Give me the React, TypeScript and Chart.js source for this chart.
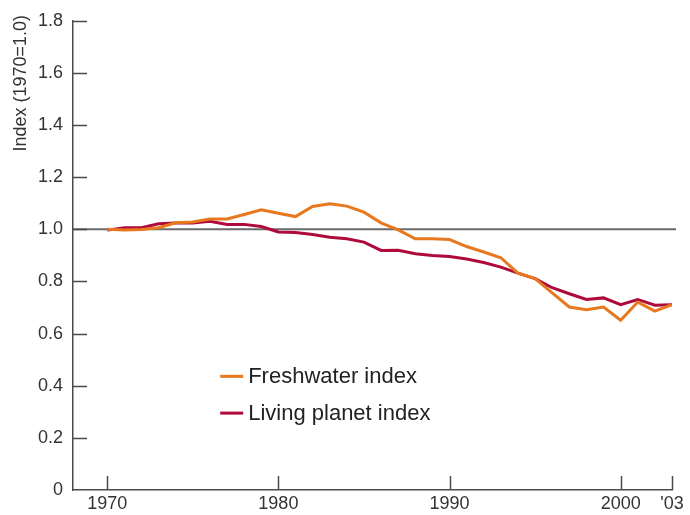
import React, { useEffect, useRef } from "react";
import { Chart, registerables } from "chart.js";

Chart.register(...registerables);

const years = [
  1970, 1971, 1972, 1973, 1974, 1975, 1976, 1977, 1978, 1979,
  1980, 1981, 1982, 1983, 1984, 1985, 1986, 1987, 1988, 1989,
  1990, 1991, 1992, 1993, 1994, 1995, 1996, 1997, 1998, 1999,
  2000, 2001, 2002, 2003,
];
const freshwater = [
  1.0, 0.997, 0.999, 1.006, 1.025, 1.028, 1.04, 1.04, 1.057, 1.075,
  1.062, 1.049, 1.088, 1.098, 1.089, 1.066, 1.025, 0.998, 0.964, 0.964,
  0.961, 0.934, 0.913, 0.891, 0.832, 0.811, 0.756, 0.702, 0.692, 0.702,
  0.651, 0.721, 0.686, 0.711,
];
const livingPlanet = [
  0.997, 1.006, 1.006, 1.021, 1.024, 1.024, 1.031, 1.019, 1.019, 1.011,
  0.99, 0.988, 0.98, 0.97, 0.964, 0.951, 0.919, 0.92, 0.906, 0.9,
  0.896, 0.886, 0.873, 0.855, 0.832, 0.811, 0.776, 0.753, 0.731, 0.737,
  0.711, 0.731, 0.709, 0.711,
];
const xTickValues = [1970, 1980, 1990, 2000, 2003];
const xTickLabels = ["1970", "1980", "1990", "2000", "'03"];
const yTickValues = [0, 0.2, 0.4, 0.6, 0.8, 1.0, 1.2, 1.4, 1.6, 1.8];
const seriesLabels = ["Freshwater index", "Living planet index"];
const yTitle = "Index (1970=1.0)";
const referenceValue = 1.0;

const ORANGE = "#E8781E";
const CRIMSON = "#AE0A3C";
const AXIS = "#4a4a4a";
const FONT = "'Liberation Sans', Arial, Helvetica, sans-serif";

const decorPlugin = {
  id: "decor",
  beforeDatasetsDraw(chart: any) {
    const { ctx, chartArea, scales } = chart;
    const y = scales.y.getPixelForValue(referenceValue);
    ctx.save();
    ctx.strokeStyle = "#6a6a6a";
    ctx.lineWidth = 2;
    ctx.beginPath();
    ctx.moveTo(chartArea.left, y);
    ctx.lineTo(chartArea.right + 4, y);
    ctx.stroke();
    ctx.restore();
  },
  afterDraw(chart: any) {
    const { ctx, chartArea, scales } = chart;
    ctx.save();
    ctx.strokeStyle = AXIS;
    ctx.lineWidth = 1.5;
    // inward ticks on y
    scales.y.ticks.forEach((t: any) => {
      const py = Math.round(scales.y.getPixelForValue(t.value)) + 0.5;
      if (t.value === 0) return;
      ctx.beginPath();
      ctx.moveTo(chartArea.left, py);
      ctx.lineTo(chartArea.left + 14, py);
      ctx.stroke();
    });
    // inward ticks on x
    scales.x.ticks.forEach((t: any) => {
      const px = Math.round(scales.x.getPixelForValue(t.value)) + 0.5;
      ctx.beginPath();
      ctx.moveTo(px, chartArea.bottom);
      ctx.lineTo(px, chartArea.bottom - 14);
      ctx.stroke();
    });
    // y-axis title, top-aligned
    ctx.save();
    ctx.translate(21, 15);
    ctx.rotate(-Math.PI / 2);
    ctx.font = `18px ${FONT}`;
    ctx.fillStyle = "#333";
    ctx.textAlign = "right";
    ctx.textBaseline = "middle";
    ctx.fillText(yTitle, 0, 0);
    ctx.restore();
    // legend inside plot
    const ds = chart.data.datasets;
    const lx = scales.x.getPixelForValue(1976.6);
    const rows = [scales.y.getPixelForValue(0.436), scales.y.getPixelForValue(0.295)];
    ctx.font = `22px ${FONT}`;
    ctx.textBaseline = "middle";
    ctx.textAlign = "left";
    ds.forEach((d: any, i: number) => {
      ctx.strokeStyle = d.borderColor;
      ctx.lineWidth = 3;
      ctx.beginPath();
      ctx.moveTo(lx, rows[i]);
      ctx.lineTo(lx + 23, rows[i]);
      ctx.stroke();
      ctx.fillStyle = "#222";
      ctx.fillText(d.label, lx + 28, rows[i] + 1);
    });
    ctx.restore();
  },
};

export default function App() {
  const ref = useRef<HTMLCanvasElement | null>(null);
  useEffect(() => {
    if (!ref.current) return;
    const chart = new Chart(ref.current, {
      type: "line",
      data: {
        labels: years,
        datasets: [
          {
            label: seriesLabels[0],
            data: years.map((y, i) => ({ x: y, y: freshwater[i] })),
            borderColor: ORANGE,
            backgroundColor: ORANGE,
            borderWidth: 3,
            pointRadius: 0,
            tension: 0,
            order: 0,
          },
          {
            label: seriesLabels[1],
            data: years.map((y, i) => ({ x: y, y: livingPlanet[i] })),
            borderColor: CRIMSON,
            backgroundColor: CRIMSON,
            borderWidth: 3,
            pointRadius: 0,
            tension: 0,
            order: 1,
          },
        ],
      },
      options: {
        animation: false,
        responsive: true,
        maintainAspectRatio: false,
        layout: { padding: { top: 20, right: 18, bottom: 0, left: 0 } },
        plugins: { legend: { display: false }, tooltip: { enabled: false } },
        scales: {
          x: {
            type: "linear",
            min: 1968,
            max: 2003,
            grid: { display: false, drawTicks: false },
            border: { display: true, color: AXIS, width: 1.5 },
            afterBuildTicks: (scale: any) => {
              scale.ticks = xTickValues.map((v) => ({ value: v }));
            },
            afterFit: (scale: any) => {
              scale.height = 25;
            },
            ticks: {
              autoSkip: false,
              maxRotation: 0,
              padding: 3,
              color: "#333",
              font: { family: FONT, size: 18 },
              callback: (v: any) => {
                const i = xTickValues.indexOf(Number(v));
                return i >= 0 ? xTickLabels[i] : "";
              },
            },
          },
          y: {
            type: "linear",
            min: 0,
            max: 1.8,
            grid: { display: false, drawTicks: false },
            border: { display: true, color: AXIS, width: 1.5 },
            afterBuildTicks: (scale: any) => {
              scale.ticks = yTickValues.map((v) => ({ value: v }));
            },
            afterFit: (scale: any) => {
              scale.width = 73;
            },
            ticks: {
              padding: 10,
              color: "#333",
              font: { family: FONT, size: 18 },
              callback: (v: any) => (Number(v) === 0 ? "0" : Number(v).toFixed(1)),
            },
          },
        },
      },
      plugins: [decorPlugin],
    } as any);
    return () => chart.destroy();
  }, []);
  return (
    <div style={{ position: "fixed", left: 0, top: 0, width: 690, height: 515, background: "#fff" }}>
      <canvas ref={ref} />
    </div>
  );
}
